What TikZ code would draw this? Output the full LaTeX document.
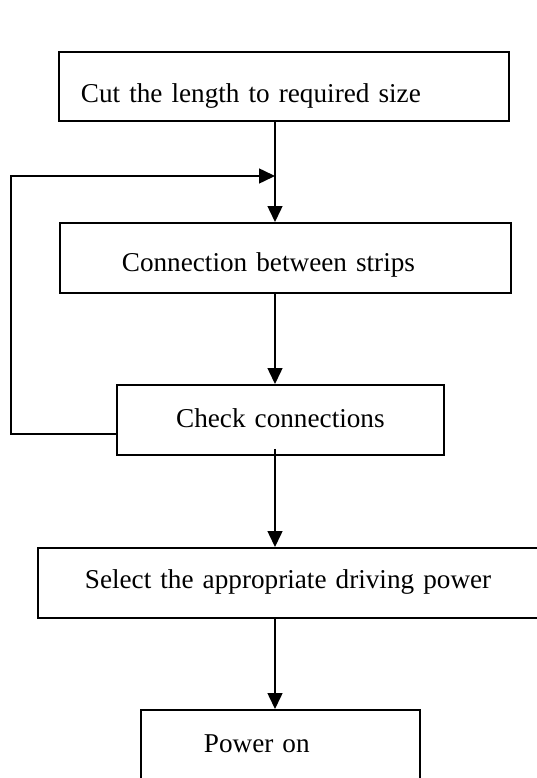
\documentclass[tikz,border=0pt]{standalone}
\usepackage{fontspec}
\setmainfont{Liberation Serif}
\usetikzlibrary{arrows.meta}

\tikzset{
	stage/.style={draw, line width=1.8pt, anchor=north west, inner ysep=0pt, font=\fontsize{27.2}{33}\selectfont},
	flow/.style={line width=1.5pt, -{Triangle[length=16pt,width=15pt]}}
}

\begin{document}
\begin{tikzpicture}
			\useasboundingbox (0,0) rectangle (536pt,-778pt);
			\coordinate (spine) at (275pt,0);
			\coordinate (back) at (11pt,-176pt);
			\node[stage, align=left, inner xsep=22pt, text width=406pt, text height=51pt, text depth=18pt] (cut) at (58pt,-51pt) {Cut the length to required size};
			\node[stage, align=left, inner xsep=62pt, text width=327pt, text height=49pt, text depth=21pt] (join) at (59pt,-222pt) {Connection between strips};
			\node[stage, align=center, inner xsep=20pt, text width=287pt, text height=43pt, text depth=27pt] (check) at (116pt,-384pt) {Check connections};
			\node[stage, align=left, inner xsep=47pt, text width=420pt, text height=41pt, text depth=29pt] (select) at (37pt,-547pt) {Select the appropriate driving power};
			\node[stage, align=left, inner xsep=63pt, text width=153pt, text height=43pt, text depth=50pt] (power) at (140pt,-709pt) {Power on};
			\path (check.south -| spine) coordinate (cs);
			\draw[flow] (cut.south -| spine) -- (join.north -| spine);
			\draw[flow] (join.south -| spine) -- (check.north -| spine);
			\draw[flow] ([yshift=-14pt]check.west) -| (back) -- (back -| spine);
			\draw[flow] ([yshift=7pt]cs) -- (select.north -| spine);
			\draw[flow] (select.south -| spine) -- (power.north -| spine);
		\end{tikzpicture}
\end{document}
